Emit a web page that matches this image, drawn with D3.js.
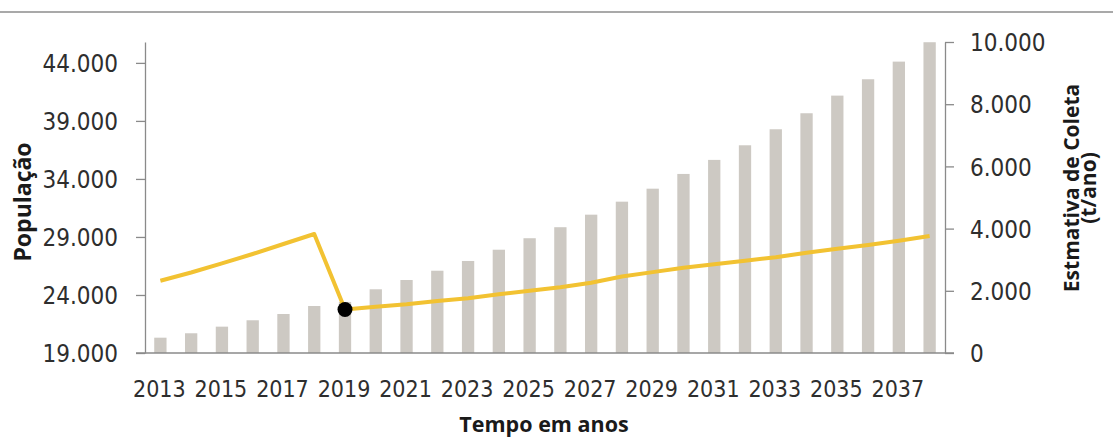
<!DOCTYPE html>
<html>
<head>
<meta charset="utf-8">
<script src="https://cdn.jsdelivr.net/npm/d3@7"></script>
<style>
  html, body { margin: 0; padding: 0; background: #fff; }
  svg { display: block; }
  .tick-label { font-family: "Liberation Sans Narrow", "DejaVu Sans Condensed", sans-serif; fill: #2e2e2e; }
  .title { font-family: "Open Sans", sans-serif; font-weight: 700; fill: #1a1a1a; }
</style>
</head>
<body>
<svg id="chart" width="1113" height="439"></svg>
<script>
// Years on the horizontal axis
const years = [2013, 2014, 2015, 2016, 2017, 2018, 2019, 2020, 2021, 2022, 2023, 2024, 2025,
               2026, 2027, 2028, 2029, 2030, 2031, 2032, 2033, 2034, 2035, 2036, 2037, 2038];

// Population per year (bars, left axis)
const populacao = [20320, 20700, 21270, 21820, 22360, 23050, 23400, 24490, 25290, 26090, 26930, 27900, 28890,
                   29840, 30920, 32040, 33160, 34430, 35640, 36900, 38280, 39660, 41180, 42590, 44110, 45780];

// Estimated collection in t/year (line, right axis)
const coleta = [2325, 2588, 2884, 3183, 3505, 3826, 1399, 1489, 1565, 1672, 1758, 1886, 2004,
                2111, 2261, 2460, 2600, 2743, 2852, 2968, 3077, 3225, 3354, 3473, 3611, 3762];

// Year highlighted with a marker on the line
const destaque = [2019];

// Axis ticks
const leftTicks = [19000, 24000, 29000, 34000, 39000, 44000];
const rightTicks = [0, 2000, 4000, 6000, 8000, 10000];
const xLabelYears = [2013, 2015, 2017, 2019, 2021, 2023, 2025, 2027, 2029, 2031, 2033, 2035, 2037];

const svg = d3.select("#chart");
const W = 1113;

const plot = { left: 145, right: 945, top: 42, bottom: 353 };

const x = d3.scaleBand()
  .domain(years)
  .range([plot.left, plot.right])
  .paddingInner(0.6)
  .paddingOuter(0.3);

const yLeft = d3.scaleLinear().domain([19000, 45800]).range([plot.bottom, plot.top]);
const yRight = d3.scaleLinear().domain([0, 10000]).range([plot.bottom, plot.top]);

const fmt = v => d3.format(",")(v).replace(/,/g, ".");
const cx = yr => x(yr) + x.bandwidth() / 2;

// Top separator rule
svg.append("line")
  .attr("x1", 0).attr("x2", W).attr("y1", 12).attr("y2", 12)
  .attr("stroke", "#8c8c8c").attr("stroke-width", 1.6);

// Bars: population
svg.append("g").selectAll("rect")
  .data(years.map((yr, i) => ({ yr, v: populacao[i] })))
  .join("rect")
  .attr("x", d => x(d.yr))
  .attr("width", x.bandwidth())
  .attr("y", d => yLeft(d.v))
  .attr("height", d => yLeft(19000) - yLeft(d.v))
  .attr("fill", "#cdc9c3");

// Line: estimated collection
const lineData = years.map((yr, i) => ({ yr, v: coleta[i] }));
svg.append("path")
  .datum(lineData)
  .attr("fill", "none")
  .attr("stroke", "#f2c232")
  .attr("stroke-width", 4)
  .attr("stroke-linejoin", "round")
  .attr("d", d3.line().x(d => cx(d.yr)).y(d => yRight(d.v)));

// Highlight marker
svg.append("g").selectAll("circle")
  .data(lineData.filter(d => destaque.includes(d.yr)))
  .join("circle")
  .attr("cx", d => cx(d.yr))
  .attr("cy", d => yRight(d.v))
  .attr("r", 7.5)
  .attr("fill", "#000");

// Left axis
const axisColor = "#8a8a8a";
const gL = svg.append("g").attr("transform", `translate(${plot.left},0)`)
  .call(d3.axisLeft(yLeft).tickValues(leftTicks).tickSize(9).tickSizeOuter(0).tickFormat(fmt));
gL.select(".domain").attr("stroke", axisColor).attr("stroke-width", 1.3);
gL.selectAll(".tick line").attr("stroke", axisColor).attr("stroke-width", 1.3);
gL.selectAll(".tick text").attr("class", "tick-label").attr("font-size", 24).attr("x", -27).attr("dy", "0.36em");

// Right axis
const gR = svg.append("g").attr("transform", `translate(${plot.right},0)`)
  .call(d3.axisRight(yRight).tickValues(rightTicks).tickSize(9).tickSizeOuter(0).tickFormat(fmt));
gR.select(".domain").attr("stroke", axisColor).attr("stroke-width", 1.3);
gR.selectAll(".tick line").attr("stroke", axisColor).attr("stroke-width", 1.3);
gR.selectAll(".tick text").attr("class", "tick-label").attr("font-size", 24).attr("x", 25).attr("dy", "0.36em");

// Drop the default font attributes set by d3 axes
[gL, gR].forEach(g => g.attr("font-family", null).attr("font-size", null));

// Bottom axis line (no ticks)
svg.append("line")
  .attr("x1", plot.left - 9).attr("x2", plot.right + 9)
  .attr("y1", plot.bottom).attr("y2", plot.bottom)
  .attr("stroke", axisColor).attr("stroke-width", 1.3);

// Year labels
svg.append("g").selectAll("text")
  .data(xLabelYears)
  .join("text")
  .attr("class", "tick-label")
  .attr("font-size", 23)
  .attr("text-anchor", "middle")
  .attr("x", d => cx(d) - 1)
  .attr("y", 397)
  .text(d => d);

// Axis titles
svg.append("text")
  .attr("class", "title")
  .attr("font-size", 21.5)
  .attr("text-anchor", "middle")
  .attr("x", 544).attr("y", 432)
  .text("Tempo em anos");

svg.append("text")
  .attr("class", "title")
  .attr("font-size", 23)
  .attr("text-anchor", "middle")
  .attr("transform", "translate(31,202) rotate(-90)")
  .text("População");

const rt = svg.append("text")
  .attr("class", "title")
  .attr("font-size", 21)
  .attr("text-anchor", "middle")
  .attr("transform", "translate(1079,188) rotate(-90)");
rt.append("tspan").attr("x", 0).attr("y", 0).text("Estmativa de Coleta");
rt.append("tspan").attr("x", 0).attr("y", 17).text("(t/ano)");
</script>
</body>
</html>
